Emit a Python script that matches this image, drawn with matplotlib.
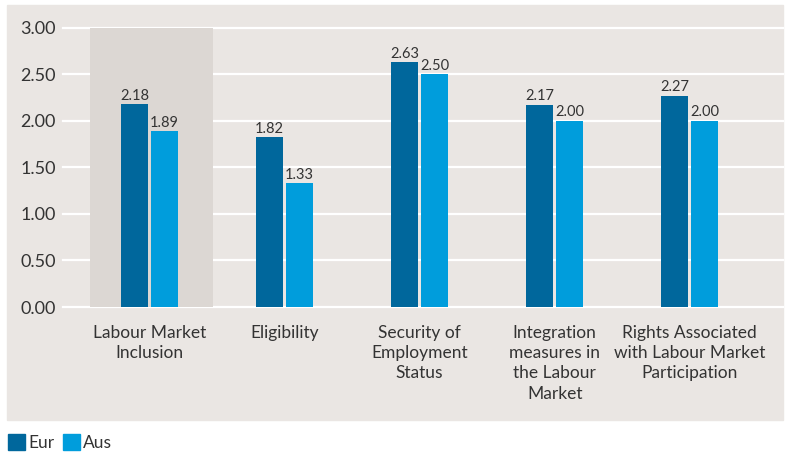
import matplotlib
matplotlib.use("Agg")
import matplotlib.pyplot as plt
from matplotlib.patches import Rectangle, Patch
import numpy as np

categories = ["Labour Market\nInclusion", "Eligibility",
              "Security of\nEmployment\nStatus",
              "Integration\nmeasures in\nthe Labour\nMarket",
              "Rights Associated\nwith Labour Market\nParticipation"]
eur = [2.18, 1.82, 2.63, 2.17, 2.27]
aus = [1.89, 1.33, 2.50, 2.00, 2.00]
yticks = [0.0, 0.5, 1.0, 1.5, 2.0, 2.5, 3.0]

EUR_C = "#00679c"
AUS_C = "#009ddc"
PANEL = "#eae6e3"
SHADE = "#dcd7d3"
TXT = "#333333"

plt.rcParams["font.family"] = ["Lato", "DejaVu Sans"]

W, H = 787, 455
fig = plt.figure(figsize=(W / 100, H / 100), dpi=100)
fig.patch.set_facecolor("white")
# grey backing panel behind the plot and category labels
fig.patches.append(Rectangle((7 / W, 1 - 420 / H), 776 / W, 415 / H,
                             transform=fig.transFigure, color=PANEL, zorder=-10))

ax = fig.add_axes([63 / W, 1 - 307 / H, 720 / W, 279.5 / H])
ax.set_facecolor("none")

x = np.arange(len(categories))
bw = 0.2
gap = 0.011
ax.axvspan(-0.44, 0.47, ymin=0, ymax=1, color=SHADE, zorder=1, lw=0)
b1 = ax.bar(x - bw / 2 - gap, eur, bw, color=EUR_C, zorder=3)
b2 = ax.bar(x + bw / 2 + gap, aus, bw, color=AUS_C, zorder=3)

for bars, vals in ((b1, eur), (b2, aus)):
    for r, v in zip(bars, vals):
        ax.annotate("%.2f" % v, (r.get_x() + r.get_width() / 2, v),
                    xytext=(0, 1), textcoords="offset points",
                    ha="center", va="bottom", fontsize=10.5, color=TXT)

for t in yticks:
    ax.axhline(t, color="white", lw=1.6, zorder=0.5, clip_on=False)

ax.set_xlim(-0.64, 4.69)
ax.set_ylim(0, 3.0)
ax.set_yticks(yticks)
ax.set_yticklabels(["%.2f" % t for t in yticks], fontsize=13, color=TXT)
ax.set_xticks(x)
ax.set_xticklabels(categories, fontsize=12.5, color=TXT, linespacing=1.32, va="top")
ax.tick_params(axis="both", length=0)
ax.tick_params(axis="x", pad=13)
ax.tick_params(axis="y", pad=5)
for s in ax.spines.values():
    s.set_visible(False)

handles = [Patch(color=EUR_C, label="Eur"), Patch(color=AUS_C, label="Aus")]
fig.legend(handles=handles, loc="center left", bbox_to_anchor=(8 / W, 1 - 442.5 / H),
           ncol=2, frameon=False, fontsize=12.5, handlelength=1.0, handleheight=1.0,
           handletextpad=0.15, columnspacing=0.5, borderpad=0, borderaxespad=0,
           labelcolor=TXT)

fig.savefig("out.png", dpi=100)
